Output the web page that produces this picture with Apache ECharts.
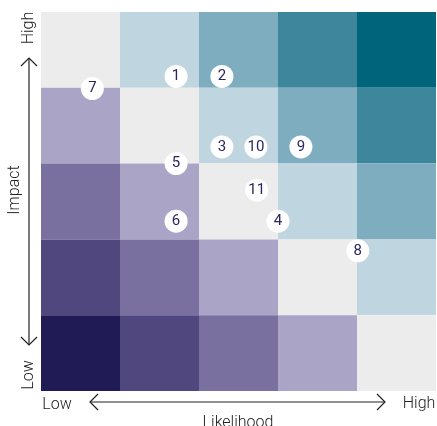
<!DOCTYPE html>
<html>
<head>
<meta charset="utf-8">
<script src="https://cdn.jsdelivr.net/npm/echarts@6/dist/echarts.min.js"></script>
<style>
  html, body { margin: 0; padding: 0; background: #ffffff; }
  #chart { width: 437px; height: 426px; }
</style>
</head>
<body>
<div id="chart"></div>
<script>
// Risk matrix: score of each cell, rows from top (high impact) to bottom (low impact)
const riskScores = [
  [0, 1, 2, 3, 4],
  [-1, 0, 1, 2, 3],
  [-2, -1, 0, 1, 2],
  [-3, -2, -1, 0, 1],
  [-4, -3, -2, -1, 0]
];

// Colour for each score, from -4 to +4
const scoreColors = [
  '#201a55', '#4f477d', '#79709f', '#aaa5c6',
  '#ececec',
  '#bfd5e0', '#7fadc0', '#3d869c', '#00657b'
];

// Individual risks placed on the likelihood / impact plane (0..5 scale)
const riskIds    = ['1', '2', '3', '4', '5', '6', '7', '8', '9', '10', '11'];
const likelihood = [1.71, 2.29, 2.29, 3.00, 1.71, 1.71, 0.65, 4.01, 3.29, 2.72, 2.73];
const impact     = [4.15, 4.15, 3.22, 2.24, 3.00, 2.24, 3.99, 1.85, 3.22, 3.22, 2.65];

const axisLabels = { low: 'Low', high: 'High', x: 'Likelihood', y: 'Impact' };

const nRows = riskScores.length;
const cells = [];
riskScores.forEach((row, r) => {
  row.forEach((score, c) => {
    cells.push([c, nRows - 1 - r, score]);
  });
});

const points = riskIds.map((id, i) => ({ name: id, value: [likelihood[i], impact[i]] }));

const textFont = 'Roboto, "Liberation Sans", sans-serif';
const textStyle = { fill: '#222222', fontSize: 16, fontFamily: textFont, fontWeight: 300 };
const lineStyle = { stroke: '#222222', lineWidth: 1.2, fill: null };

const chart = echarts.init(document.getElementById('chart'), null, { renderer: 'canvas' });

chart.setOption({
  animation: false,
  backgroundColor: '#ffffff',
  grid: { left: 41, right: 1, top: 12, bottom: 35 },
  xAxis: {
    type: 'value', min: 0, max: 5, interval: 1,
    axisLine: { show: false }, axisTick: { show: false },
    axisLabel: { show: false }, splitLine: { show: false }
  },
  yAxis: {
    type: 'value', min: 0, max: 5, interval: 1,
    axisLine: { show: false }, axisTick: { show: false },
    axisLabel: { show: false }, splitLine: { show: false }
  },
  series: [
    {
      type: 'custom',
      data: cells,
      z: 1,
      renderItem: function (params, api) {
        const x = api.value(0), y = api.value(1), s = api.value(2);
        const p0 = api.coord([x, y + 1]);
        const p1 = api.coord([x + 1, y]);
        return {
          type: 'rect',
          shape: { x: p0[0], y: p0[1], width: p1[0] - p0[0], height: p1[1] - p0[1] },
          style: { fill: scoreColors[s + 4] }
        };
      }
    },
    {
      type: 'scatter',
      data: points,
      z: 3,
      symbol: 'circle',
      symbolSize: 23,
      itemStyle: { color: '#ffffff', opacity: 1 },
      emphasis: { disabled: true },
      label: {
        show: true,
        position: 'inside',
        formatter: '{b}',
        color: '#2b2660',
        fontSize: 15,
        fontFamily: textFont
      }
    }
  ],
  graphic: [
    // Impact arrow
    { type: 'line', shape: { x1: 29, y1: 58, x2: 29, y2: 345 }, style: lineStyle },
    { type: 'polyline', shape: { points: [[21, 66], [29, 58], [37, 66]] }, style: lineStyle },
    { type: 'polyline', shape: { points: [[21, 337], [29, 345], [37, 337]] }, style: lineStyle },
    // Likelihood arrow
    { type: 'line', shape: { x1: 90, y1: 402, x2: 385, y2: 402 }, style: lineStyle },
    { type: 'polyline', shape: { points: [[98, 394], [90, 402], [98, 410]] }, style: lineStyle },
    { type: 'polyline', shape: { points: [[377, 394], [385, 402], [377, 410]] }, style: lineStyle },
    // Axis texts
    { type: 'text', x: 29, y: 28, rotation: Math.PI / 2,
      style: Object.assign({ text: axisLabels.high, align: 'center', verticalAlign: 'middle' }, textStyle) },
    { type: 'text', x: 29, y: 375, rotation: Math.PI / 2,
      style: Object.assign({ text: axisLabels.low, align: 'center', verticalAlign: 'middle' }, textStyle) },
    { type: 'text', x: 15, y: 190, rotation: Math.PI / 2,
      style: Object.assign({ text: axisLabels.y, align: 'center', verticalAlign: 'middle' }, textStyle) },
    { type: 'text', x: 57, y: 405,
      style: Object.assign({ text: axisLabels.low, align: 'center', verticalAlign: 'middle' }, textStyle) },
    { type: 'text', x: 419, y: 404,
      style: Object.assign({ text: axisLabels.high, align: 'center', verticalAlign: 'middle' }, textStyle) },
    { type: 'text', x: 238, y: 423,
      style: Object.assign({ text: axisLabels.x, align: 'center', verticalAlign: 'middle' }, textStyle) }
  ]
});
</script>
</body>
</html>
